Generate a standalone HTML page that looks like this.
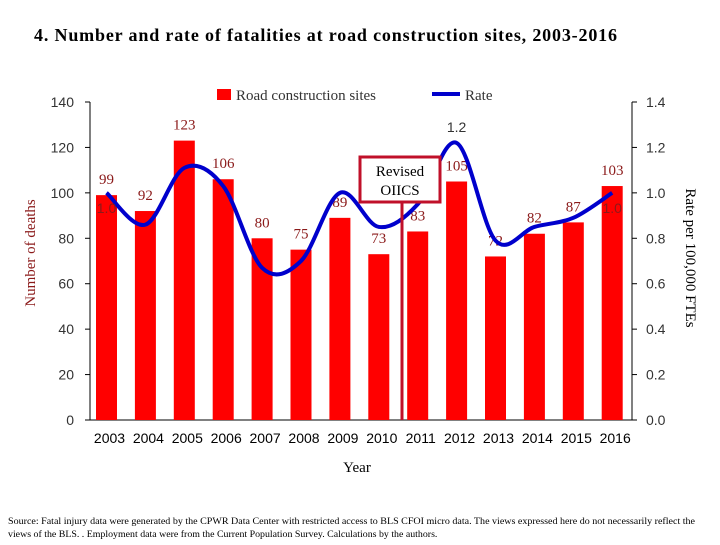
<!DOCTYPE html>
<html><head><meta charset="utf-8"><style>
body{margin:0;background:#fff;width:720px;height:540px;overflow:hidden}
.serif{font-family:"Liberation Serif",serif}
.sans{font-family:"Liberation Sans",sans-serif}
</style></head><body>
<svg id="chart" width="720" height="540" xmlns="http://www.w3.org/2000/svg">
<text class="serif" x="34" y="41" font-size="18" font-weight="bold" textLength="583" lengthAdjust="spacing">4. Number and rate of fatalities at road construction sites, 2003-2016</text>
<g id="g"></g>
<text class="serif" x="357" y="472" font-size="15" text-anchor="middle">Year</text>
<text class="serif" transform="translate(35,253) rotate(-90)" font-size="15" text-anchor="middle" fill="#8b1a1a">Number of deaths</text>
<text class="serif" transform="translate(686,258) rotate(90)" font-size="15" text-anchor="middle">Rate per 100,000 FTEs</text>
<text class="serif" x="8" y="524" font-size="9.9" textLength="687" lengthAdjust="spacingAndGlyphs">Source: Fatal injury data were generated by the CPWR Data Center with restricted access to BLS CFOI micro data.  The views expressed here do not necessarily reflect the</text>
<text class="serif" x="8" y="537" font-size="9.9">views of the BLS. . Employment data were from the Current Population Survey. Calculations by the authors.</text>
</svg>
<script>
const years=["2003","2004","2005","2006","2007","2008","2009","2010","2011","2012","2013","2014","2015","2016"];
const deaths=[99,92,123,106,80,75,89,73,83,105,72,82,87,103];
const rates=[1.0,0.86,1.11,1.03,0.67,0.70,1.0,0.85,0.95,1.22,0.79,0.85,0.89,1.0];
const leftTicks=[0,20,40,60,80,100,120,140];
const rightTicks=["0.0","0.2","0.4","0.6","0.8","1.0","1.2","1.4"];
const X0=90,X1=632,Y0=420,Y1=102;
const step=38.9;
const xc=i=>106.5+step*i;
const yL=v=>Y0-(v/140)*(Y0-Y1);
const yR=v=>Y0-(v/1.4)*(Y0-Y1);
const g=document.getElementById('g');
const NS="http://www.w3.org/2000/svg";
function mk(t,a,txt,cls){const e=document.createElementNS(NS,t);for(const k in a)e.setAttribute(k,a[k]);if(cls)e.setAttribute('class',cls);if(txt!==undefined)e.textContent=txt;g.appendChild(e);return e;}
let e=mk('line',{x1:X0,y1:Y1,x2:X0,y2:Y0,stroke:'#000'});


e=mk('line',{x1:X1,y1:Y1,x2:X1,y2:Y0,stroke:'#000'});


e=mk('line',{x1:X0,y1:Y0,x2:X1,y2:Y0,stroke:'#000'});


leftTicks.forEach(v=>{
 mk('line',{x1:X0-5,y1:yL(v),x2:X0,y2:yL(v),stroke:'#000'});
 e=mk('text',{x:X0-16,y:yL(v)+5,'font-size':14,'text-anchor':'end',fill:'#333'},v,'sans');
 
 
});
rightTicks.forEach(v=>{
 mk('line',{x1:X1,y1:yR(+v),x2:X1+5,y2:yR(+v),stroke:'#000'});
 e=mk('text',{x:X1+14,y:yR(+v)+5,'font-size':14,fill:'#333'},v,'sans');
 
 
});
const bw=21;
deaths.forEach((d,i)=>{
 e=mk('rect',{x:xc(i)-bw/2,y:yL(d),width:bw,height:Y0-yL(d),fill:'#ff0000'});
 
 
 e=mk('text',{x:xc(i),y:yL(d)-11,'font-size':15,'text-anchor':'middle',fill:'#8b1a1a'},d,'serif');
 
 
 e=mk('text',{x:xc(i)+3,y:Y0+23,'font-size':14,'text-anchor':'middle'},years[i],'sans');
 
 
});
const pts=rates.map((r,i)=>[xc(i),yR(r)]);
let d='M'+pts[0][0]+','+pts[0][1];
for(let i=0;i<pts.length-1;i++){
 const p0=pts[Math.max(0,i-1)],p1=pts[i],p2=pts[i+1],p3=pts[Math.min(pts.length-1,i+2)];
 d+=` C${p1[0]+(p2[0]-p0[0])/6},${p1[1]+(p2[1]-p0[1])/6} ${p2[0]-(p3[0]-p1[0])/6},${p2[1]-(p3[1]-p1[1])/6} ${p2[0]},${p2[1]}`;
}
e=mk('path',{d:d,fill:'none',stroke:'#0000cc','stroke-width':4});


[0,9,13].forEach(i=>{
 e=mk('text',{x:xc(i),y:yR(rates[i])+(i==9?-11:20),'font-size':14,'text-anchor':'middle',fill:i==9?'#333':'#8b1a1a'},rates[i].toFixed(1),'sans');
 
 
});
e=mk('line',{x1:402,y1:202,x2:402,y2:Y0,stroke:'#c0102a','stroke-width':3});


e=mk('rect',{x:360,y:157,width:80,height:45,fill:'#fff',stroke:'#c0102a','stroke-width':3});


mk('text',{x:400,y:176,'font-size':15,'text-anchor':'middle'},'Revised','serif');
mk('text',{x:400,y:195,'font-size':15,'text-anchor':'middle'},'OIICS','serif');
e=mk('rect',{x:217,y:89,width:14,height:11,fill:'#ff0000'});


e=mk('text',{x:236,y:100,'font-size':15,fill:'#333'},'Road construction sites','serif');


e=mk('line',{x1:432,y1:94,x2:460,y2:94,stroke:'#0000cc','stroke-width':4});


e=mk('text',{x:465,y:100,'font-size':15,fill:'#333'},'Rate','serif');


</script>
</body></html>
